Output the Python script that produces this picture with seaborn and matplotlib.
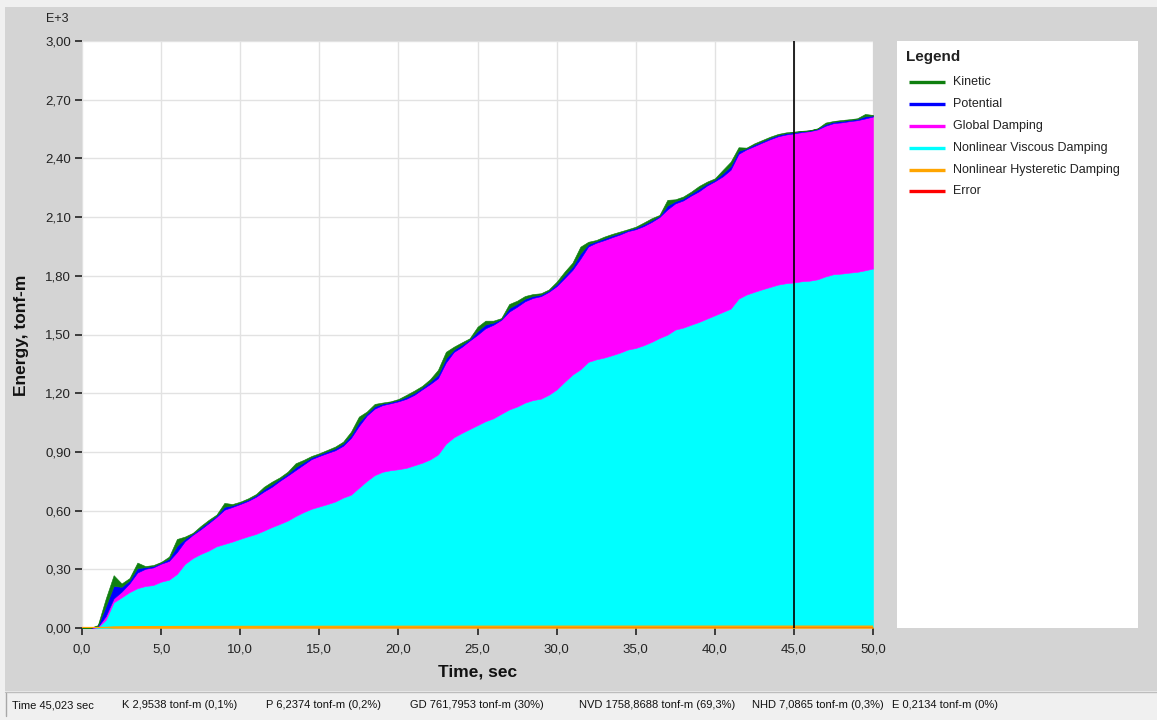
import numpy as np
import matplotlib
matplotlib.use("Agg")
import matplotlib.pyplot as plt
import seaborn as sns
from matplotlib.patches import Rectangle
from matplotlib.lines import Line2D

# ---------------------------------------------------------------------------
# Energy components (tonf-m), sampled every 0.5 s from 0 to 50 s
# ---------------------------------------------------------------------------
time_s = np.arange(0, 50.001, 0.5)

kinetic = [
    0, 0, 4, 40, 55, 17, 12, 28, 6, 5,
    4, 10, 35, 11, 4, 8, 8, 5, 20, 7,
    5, 6, 6, 12, 14, 8, 10, 20, 12, 7,
    6, 7, 9, 10, 18, 28, 10, 12, 5, 4,
    5, 10, 12, 9, 13, 25, 33, 15, 12, 5,
    22, 20, 10, 4, 21, 16, 14, 10, 7, 5,
    12, 18, 20, 35, 12, 6, 9, 8, 7, 4,
    6, 9, 10, 5, 29, 10, 10, 10, 14, 10,
    7, 18, 22, 18, 4, 6, 6, 6, 5, 4,
    2.9538, 2, 1.5, 2, 8, 4, 5, 4, 4, 12,
    3,
]

potential = [
    0, 0, 5, 50, 64, 25, 15, 23, 8, 7,
    5, 12, 32, 13, 6, 9, 9, 7, 15, 8,
    7, 7, 8, 12, 12, 10, 10, 15, 12, 9,
    8, 9, 10, 11, 14, 20, 11, 12, 8, 6,
    7, 10, 10, 9, 12, 18, 22, 12, 11, 7,
    19, 19, 11, 5, 18, 15, 13, 10, 8, 7,
    11, 15, 17, 27, 12, 8, 9, 9, 8, 6,
    7, 9, 9, 6, 20, 11, 10, 10, 13, 10,
    8, 15, 19, 16, 5, 8, 7, 7, 7, 7,
    6.2374, 4.5, 3.5, 4, 8, 7, 7, 6, 6, 11,
    5,
]

global_damping = [
    0, 0, 3, 19, 20, 29, 45, 80, 88, 90,
    92, 96, 112, 116, 119, 126, 140, 150, 175, 177,
    178, 181, 190, 200, 206, 220, 230, 235, 243, 254,
    258, 261, 262, 265, 290, 316, 334, 340, 341, 342,
    347, 353, 360, 375, 385, 390, 415, 436, 440, 452,
    462, 475, 478, 480, 500, 510, 518, 522, 524, 526,
    528, 530, 535, 565, 590, 596, 600, 603, 604, 605,
    607, 609, 613, 618, 640, 645, 650, 660, 668, 680,
    685, 693, 710, 740, 742, 745, 750, 755, 758, 760,
    761.7953, 762.5, 764, 766, 770, 772, 773, 774, 775, 776,
    777,
]

nonlinear_viscous = [
    0, 0, 3, 41, 128, 153, 179, 199, 210, 215,
    232, 242, 271, 322, 352, 373, 390, 412, 424, 436,
    450, 463, 475, 492, 510, 526, 543, 566, 586, 603,
    615, 627, 640, 660, 675, 710, 745, 775, 792, 800,
    805, 812, 825, 838, 855, 880, 935, 968, 990, 1010,
    1030, 1050, 1065, 1088, 1110, 1125, 1145, 1158, 1165, 1185,
    1212, 1251, 1288, 1315, 1353, 1366, 1375, 1387, 1400, 1416,
    1424, 1438, 1455, 1475, 1492, 1518, 1528, 1543, 1557, 1574,
    1591, 1608, 1625, 1676, 1697, 1711, 1724, 1736, 1748, 1755,
    1758.8688, 1765, 1768, 1775, 1790, 1801, 1804, 1809, 1813, 1821,
    1830,
]

nonlinear_hysteretic = [
    0, 0, 0, 0.5, 3.0, 3.6, 4.0, 4.3, 4.5, 4.6,
    4.7, 4.8, 5.0, 5.1, 5.2, 5.3, 5.4, 5.5, 5.5, 5.6,
    5.6, 5.7, 5.7, 5.8, 5.8, 5.9, 5.9, 6.0, 6.0, 6.0,
    6.1, 6.1, 6.1, 6.2, 6.2, 6.3, 6.3, 6.3, 6.3, 6.4,
    6.4, 6.4, 6.4, 6.5, 6.5, 6.5, 6.6, 6.6, 6.6, 6.6,
    6.7, 6.7, 6.7, 6.7, 6.8, 6.8, 6.8, 6.8, 6.8, 6.8,
    6.9, 6.9, 6.9, 6.9, 6.9, 6.9, 7.0, 7.0, 7.0, 7.0,
    7.0, 7.0, 7.0, 7.0, 7.05, 7.05, 7.05, 7.05, 7.05, 7.05,
    7.06, 7.06, 7.07, 7.07, 7.07, 7.08, 7.08, 7.08, 7.08, 7.08,
    7.0865, 7.09, 7.09, 7.09, 7.10, 7.10, 7.10, 7.10, 7.10, 7.11,
    7.11,
]

error = [
    0, 0, 0, 0.02, 0.05, 0.06, 0.07, 0.08, 0.08, 0.09,
    0.09, 0.1, 0.1, 0.1, 0.11, 0.11, 0.11, 0.12, 0.12, 0.12,
    0.12, 0.13, 0.13, 0.13, 0.13, 0.14, 0.14, 0.14, 0.14, 0.15,
    0.15, 0.15, 0.15, 0.15, 0.16, 0.16, 0.16, 0.16, 0.16, 0.17,
    0.17, 0.17, 0.17, 0.17, 0.17, 0.18, 0.18, 0.18, 0.18, 0.18,
    0.18, 0.18, 0.19, 0.19, 0.19, 0.19, 0.19, 0.19, 0.19, 0.19,
    0.19, 0.2, 0.2, 0.2, 0.2, 0.2, 0.2, 0.2, 0.2, 0.2,
    0.2, 0.2, 0.2, 0.2, 0.21, 0.21, 0.21, 0.21, 0.21, 0.21,
    0.21, 0.21, 0.21, 0.21, 0.21, 0.21, 0.21, 0.21, 0.21, 0.21,
    0.2134, 0.21, 0.21, 0.21, 0.21, 0.21, 0.21, 0.22, 0.22, 0.22,
    0.22,
]

series_names = ["Kinetic", "Potential", "Global Damping", "Nonlinear Viscous Damping",
                "Nonlinear Hysteretic Damping", "Error"]
short_names = ["K", "P", "GD", "NVD", "NHD", "E"]
series_colors = ["#0f7f0f", "#0000ff", "#ff00ff", "#00ffff", "#ffa500", "#ff0000"]

cursor_time = 45.023
x_ticks = np.arange(0, 50.001, 5.0)
y_ticks = np.arange(0, 3.0001, 0.3)

# ---------------------------------------------------------------------------
sns.set_theme(style="whitegrid")
plt.rcParams["font.family"] = ["Liberation Sans", "DejaVu Sans"]

W, H = 1157, 720
fig = plt.figure(figsize=(W / 100, H / 100), dpi=100, facecolor="#f0f0f0")


def fx(px):
    return px / W


def fy(py):
    return 1 - py / H


# grey chart panel and status strip (kept behind the axes)
fig.patches.append(Rectangle((fx(5), fy(691)), fx(1157) - fx(5), fy(7) - fy(691),
                             transform=fig.transFigure, facecolor="#d4d4d4",
                             edgecolor="none", zorder=-10))
fig.lines.append(Line2D([fx(5), fx(1157)], [fy(692), fy(692)], transform=fig.transFigure,
                        color="#bdbdbd", lw=1, zorder=-9))
fig.lines.append(Line2D([fx(6), fx(6)], [fy(693), fy(716)], transform=fig.transFigure,
                        color="#a8a8a8", lw=1, zorder=-9))

# main plot area
ax = fig.add_axes([fx(82), fy(628), fx(873) - fx(82), fy(41) - fy(628)])
ax.set_facecolor("white")

t = time_s
k = np.array(kinetic) / 1000.0
p = np.array(potential) / 1000.0
gd = np.array(global_damping) / 1000.0
nvd = np.array(nonlinear_viscous) / 1000.0
nhd = np.array(nonlinear_hysteretic) / 1000.0
err = np.array(error) / 1000.0

# stacked areas: NHD, NVD, GD, P, K from bottom to top
layers = [(nhd, "#ffa500"), (nvd, "#00ffff"), (gd, "#ff00ff"), (p, "#0000ff"), (k, "#0f7f0f")]
base = np.zeros_like(t)
for vals, col in layers:
    top = base + vals
    ax.fill_between(t, base, top, facecolor=col, edgecolor=col, lw=0.4, zorder=2)
    base = top

sns.lineplot(x=t, y=err, color="#ff0000", lw=1.0, ax=ax, zorder=3)
sns.lineplot(x=t, y=nhd, color="#ffa500", lw=1.6, ax=ax, zorder=4)

ax.axvline(cursor_time, color="black", lw=1.2, zorder=5)

ax.set_xlim(0, 50)
ax.set_ylim(0, 3.0)
ax.set_xticks(x_ticks)
ax.set_xticklabels([f"{v:.1f}".replace(".", ",") for v in x_ticks])
ax.set_yticks(y_ticks)
ax.set_yticklabels([f"{v:.2f}".replace(".", ",") for v in y_ticks])
ax.grid(True, color="#e2e2e2", lw=1.0, zorder=1)
ax.set_axisbelow(True)
for s in ax.spines.values():
    s.set_visible(False)
ax.tick_params(axis="y", direction="out", length=5, width=1.2, color="#222222",
               labelsize=9.5, labelcolor="#222222", pad=3, left=True)
ax.tick_params(axis="x", direction="out", length=5, width=1.2, color="#222222",
               labelsize=9.5, labelcolor="#222222", pad=6, bottom=True)
ax.set_xlabel("")
ax.set_ylabel("")

fig.text(fx(57), fy(19), "E+3", fontsize=9, color="#222222", ha="center", va="center")
fig.text(fx(22), fy(335), "Energy, tonf-m", fontsize=12.5, fontweight="bold",
         rotation=90, ha="center", va="center", color="#111111")
fig.text(fx(478), fy(672), "Time, sec", fontsize=12.5, fontweight="bold",
         ha="center", va="center", color="#111111")

# legend panel
lg = fig.add_axes([fx(897), fy(628), fx(1138) - fx(897), fy(41) - fy(628)])
lg.set_facecolor("white")
lg.set_xlim(897, 1138)
lg.set_ylim(628, 41)
lg.set_xticks([])
lg.set_yticks([])
lg.grid(False)
for s in lg.spines.values():
    s.set_visible(False)
lg.text(906, 57, "Legend", fontsize=11, fontweight="bold", color="#222222",
        ha="left", va="center")
entry_y = [82, 104, 126, 148, 170, 191]
for name, col, yy in zip(series_names, series_colors, entry_y):
    lg.plot([909, 945], [yy, yy], color=col, lw=2.4, solid_capstyle="butt")
    lg.text(953, yy, name, fontsize=9, color="#222222", ha="left", va="center")

# cursor readout in the status strip
ci = int(np.argmin(np.abs(time_s - cursor_time)))
readout = [kinetic[ci], potential[ci], global_damping[ci], nonlinear_viscous[ci],
           nonlinear_hysteretic[ci], error[ci]]
total = sum(readout)


def fmt_num(v, nd):
    return f"{v:.{nd}f}".replace(".", ",")


def fmt_pct(v):
    return f"{round(v, 1):g}".replace(".", ",")


status_x = [12, 122, 266, 410, 579, 752, 892]
status_fs = 8.0
fig.text(fx(status_x[0]), fy(705), f"Time {fmt_num(cursor_time, 3)} sec", fontsize=status_fs,
         ha="left", va="center", color="#111111")
for sx, nm, val in zip(status_x[1:], short_names, readout):
    txt = f"{nm} {fmt_num(val, 4)} tonf-m ({fmt_pct(100 * val / total)}%)"
    fig.text(fx(sx), fy(705), txt, fontsize=status_fs, ha="left", va="center", color="#111111")

fig.savefig("out.png", dpi=100, facecolor=fig.get_facecolor())
